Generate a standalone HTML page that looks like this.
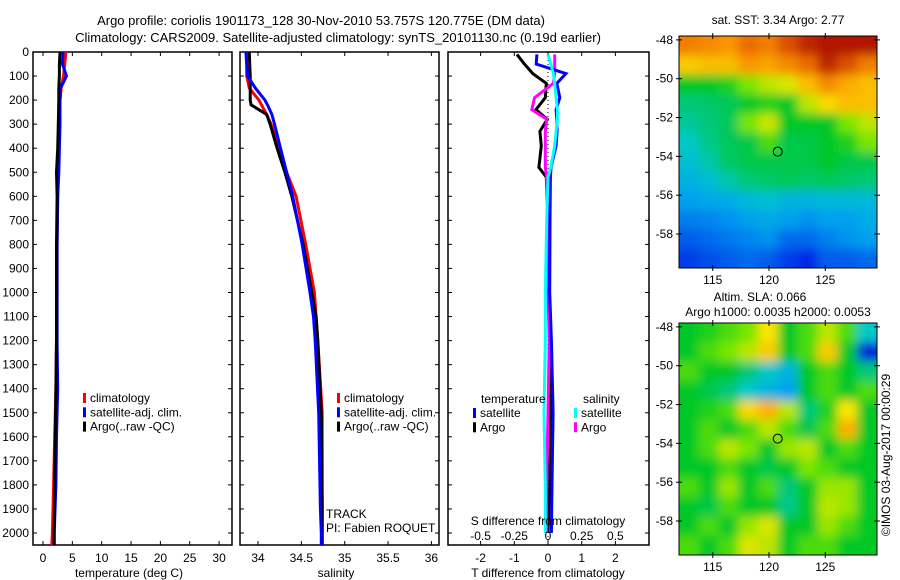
<!DOCTYPE html>
<html><head><meta charset="utf-8"><style>
body{margin:0;background:#fff}
svg{display:block;font-family:"Liberation Sans",sans-serif;font-size:12px}
</style></head><body>
<svg id="fig" width="900" height="580" viewBox="0 0 900 580">
<text x="321" y="25" text-anchor="middle" font-size="13">Argo profile: coriolis 1901173_128 30-Nov-2010 53.757S 120.775E (DM data)</text>
<text x="338" y="42" text-anchor="middle" font-size="13">Climatology: CARS2009. Satellite-adjusted climatology: synTS_20101130.nc (0.19d earlier)</text>
<text x="778" y="24" text-anchor="middle">sat. SST: 3.34 Argo: 2.77</text>
<text x="760" y="301" text-anchor="middle">Altim. SLA: 0.066</text>
<text x="778" y="316" text-anchor="middle">Argo h1000: 0.0035 h2000: 0.0053</text>
<text transform="translate(890,455) rotate(-90)" text-anchor="middle">©IMOS 03-Aug-2017 00:00:29</text>
<g id="plots"></g>
</svg>
<script>
// ---- profile data ----
const depths = [0,50,100,150,200,300,400,500,600,800,1000,1200,1400,1600,1800,2000,2050];
const tempClim = [3.9,3.7,3.5,3.1,2.9,2.8,2.7,2.6,2.5,2.4,2.4,2.3,2.2,2.0,1.8,1.6,1.5];
const tempSat  = [3.4,3.3,4.0,3.0,2.9,2.9,2.8,2.7,2.5,2.4,2.4,2.4,2.5,2.3,2.2,1.9,1.9];
const tempArgo = [2.9,2.8,2.8,2.7,2.7,2.6,2.5,2.3,2.4,2.3,2.3,2.3,2.2,2.1,2.0,1.9,1.9];
const salDepths = [0,100,150,200,220,260,300,400,500,600,800,1000,1100,1200,1500,1900,2000,2050];
const salClim = [33.87,33.87,33.90,34.01,34.04,34.10,34.15,34.25,34.33,34.44,34.55,34.65,34.67,34.69,34.74,34.74,34.74,34.74];
const salSat  = [33.86,33.88,33.97,34.08,34.11,34.16,34.19,34.26,34.33,34.40,34.51,34.60,34.64,34.66,34.70,34.72,34.73,34.73];
const salArgo = [33.90,33.91,33.91,33.91,33.92,34.10,34.14,34.22,34.31,34.39,34.52,34.62,34.67,34.69,34.73,34.74,34.74,34.74];
const diffDepths = [10,50,90,130,190,240,280,330,390,480,520,700,1000,1200,1500,1800,2000];
const tDiffSat  = [-0.33,-0.35,0.53,0.26,0.35,0.24,0.26,0.27,0.24,0.09,0.07,0.06,0.05,0.1,0.15,0.12,0.1];
const tDiffArgo = [-0.92,-0.7,-0.45,-0.05,-0.08,-0.36,-0.02,-0.24,-0.2,-0.27,-0.05,0.0,0.02,0.05,0.08,0.05,0.0];
const sDiffSat  = [0.0,0.02,0.04,0.05,0.06,0.07,0.07,0.06,0.05,0.02,0.0,-0.01,-0.02,-0.02,-0.03,-0.02,-0.02];
const sDiffArgo = [0.05,0.05,0.05,0.04,-0.1,-0.12,-0.01,-0.02,-0.02,-0.02,-0.01,0.0,0.0,0.01,0.0,-0.01,-0.01];
const depthTicks = [0,100,200,300,400,500,600,700,800,900,1000,1100,1200,1300,1400,1500,1600,1700,1800,1900,2000];
const tempTicks = [0,5,10,15,20,25,30];
const salTicks = [34,34.5,35,35.5,36];
const tDiffTicks = [-2,-1,0,1,2];
const sDiffTicks = [-0.5,-0.25,0,0.25,0.5];
// ---- map data (rows north->south, cols west->east), normalized colour values ----
const sstGrid = [
[.82,.80,.78,.85,.82,.90,.95,.97,.97,.97],
[.70,.72,.72,.78,.76,.80,.85,.95,.90,.82],
[.50,.50,.52,.58,.62,.64,.72,.80,.75,.72],
[.45,.46,.47,.50,.52,.50,.62,.68,.72,.72],
[.43,.45,.47,.58,.63,.50,.50,.50,.58,.62],
[.40,.44,.47,.48,.55,.48,.48,.50,.52,.58],
[.38,.42,.46,.48,.48,.48,.48,.50,.48,.48],
[.34,.37,.42,.45,.46,.47,.46,.47,.46,.45],
[.30,.32,.33,.36,.38,.35,.35,.36,.36,.36],
[.25,.26,.28,.30,.32,.30,.28,.30,.30,.33],
[.20,.22,.24,.26,.28,.22,.22,.25,.28,.30],
[.15,.18,.20,.22,.20,.15,.12,.20,.20,.22]];
const slaGrid = [
[.50,.52,.55,.58,.66,.50,.55,.62,.55,.40],
[.50,.55,.58,.62,.70,.50,.55,.70,.50,.10],
[.55,.50,.50,.45,.40,.35,.50,.55,.50,.45],
[.50,.48,.45,.40,.35,.30,.50,.55,.50,.55],
[.50,.52,.55,.68,.74,.62,.45,.52,.66,.50],
[.50,.55,.50,.55,.62,.55,.48,.55,.74,.50],
[.50,.55,.62,.58,.50,.60,.62,.50,.55,.50],
[.50,.50,.55,.50,.48,.50,.58,.55,.50,.50],
[.55,.50,.60,.50,.55,.45,.50,.60,.60,.50],
[.50,.48,.55,.50,.50,.44,.50,.62,.60,.50],
[.50,.55,.50,.60,.64,.50,.50,.60,.55,.50],
[.55,.50,.55,.64,.62,.50,.55,.55,.50,.50]];
const latTicks = [-48,-50,-52,-54,-56,-58];
const lonTicks = [115,120,125];
const argoLon = 120.775, argoLat = -53.757;

const NS='http://www.w3.org/2000/svg';
const root=document.getElementById('plots');
function mk(tag,attrs,parent){const e=document.createElementNS(NS,tag);for(const k in attrs)e.setAttribute(k,attrs[k]);(parent||root).appendChild(e);return e;}
function txt(s,x,y,anchor,parent){const t=mk('text',{x:x,y:y,'text-anchor':anchor||'start'},parent);t.textContent=s;return t;}

const Y=d=>52+d*0.2405;
const xT=v=>43+v*5.87;
const xS=v=>258+(v-34)*86.7;
const xD=v=>548+v*33.7;
const xSD=v=>548+v*4*33.7;

function panel(x0,x1,name){
  const g=mk('g',{});
  
  
  mk('rect',{x:x0,y:52,width:x1-x0,height:493,fill:'none',stroke:'#000','stroke-width':1.5},g);
  return g;
}
function series(g,xs,ds,fx,color,name){
  const p=ds.map((d,i)=>fx(xs[i]).toFixed(1)+','+Y(d).toFixed(1)).join(' ');
  const l=mk('polyline',{points:p,fill:'none',stroke:color,'stroke-width':3,'stroke-linejoin':'miter'},g);
  
  
}
function xticks(g,ticks,fx,x0,x1,labY){
  ticks.forEach(t=>{const x=fx(t);if(x<x0||x>x1)return;
    mk('line',{x1:x,x2:x,y1:52,y2:56,stroke:'#000'},g);
    mk('line',{x1:x,x2:x,y1:545,y2:541,stroke:'#000'},g);
    const tl=txt(String(t),x,labY,'middle',g);
    
    
  });
}
function yticks(g,x0,x1,labels){
  depthTicks.forEach(d=>{const y=Y(d);
    mk('line',{x1:x0,x2:x0+4,y1:y,y2:y,stroke:'#000'},g);
    mk('line',{x1:x1,x2:x1-4,y1:y,y2:y,stroke:'#000'},g);
    if(labels){const tl=txt(String(d),29,y+4,'end',g);
      
      }
  });
}
function legend(g,x,y,items){
  items.forEach((it,i)=>{
    mk('rect',{x:x,y:y+i*14.3-9,width:3,height:10,fill:it[1]},g);
    const t=txt(it[0],x+7,y+i*14.3,'start',g);
    
    
  });
}
// temperature panel
let g=panel(33,232,'temperature-panel');
yticks(g,33,232,true);
xticks(g,tempTicks,xT,33,232,562);
series(g,tempClim,depths,xT,'#f00','temp-climatology-line');
series(g,tempSat,depths,xT,'#00f','temp-satellite-line');
series(g,tempArgo,depths,xT,'#000','temp-argo-line');
legend(g,83,402,[['climatology','#f00'],['satellite-adj. clim.','#00f'],['Argo(..raw -QC)','#000']]);
txt('temperature (deg C)',129,577,'middle',g);
// salinity panel
g=panel(240,439,'salinity-panel');
yticks(g,240,439,false);
xticks(g,salTicks,xS,240,439,562);
series(g,salClim,salDepths,xS,'#f00','sal-climatology-line');
series(g,salArgo,salDepths,xS,'#000','sal-argo-line');
series(g,salSat,salDepths,xS,'#00f','sal-satellite-line');
legend(g,337,402,[['climatology','#f00'],['satellite-adj. clim.','#00f'],['Argo(..raw -QC)','#000']]);
txt('salinity',336,577,'middle',g);
txt('TRACK',326,518,'start',g);
txt('PI: Fabien ROQUET',326,532,'start',g);
// difference panel
g=panel(448,649,'difference-panel');
yticks(g,448,649,false);
xticks(g,tDiffTicks,xD,448,649,562);
mk('line',{x1:548,x2:548,y1:52,y2:545,stroke:'#000','stroke-dasharray':'1,3'},g);
series(g,tDiffArgo,diffDepths,xD,'#000','tdiff-argo-line');
series(g,sDiffArgo,diffDepths,xSD,'#f0f','sdiff-argo-line');
series(g,tDiffSat,diffDepths,xD,'#00f','tdiff-satellite-line');
series(g,sDiffSat,diffDepths,xSD,'#0ff','sdiff-satellite-line');
sDiffTicks.forEach(t=>{const tl=txt(String(t),xSD(t),540,'middle',g);
  
  });
txt('S difference from climatology',548,525,'middle',g);
txt('T difference from climatology',548,577,'middle',g);
txt('temperature',481,403,'start',g);
txt('salinity',583,403,'start',g);
legend(g,473,417,[['satellite','#00f'],['Argo','#000']]);
legend(g,574,417,[['satellite','#0ff'],['Argo','#f0f']]);

// maps
function jet(v){
  const stops=[[0,[0,0,140]],[0.12,[0,40,230]],[0.3,[0,160,240]],[0.4,[0,200,200]],[0.5,[0,200,40]],[0.58,[120,230,0]],[0.66,[250,230,0]],[0.78,[250,150,0]],[0.9,[220,80,0]],[1,[160,0,0]]];
  for(let i=1;i<stops.length;i++){if(v<=stops[i][0]){const a=stops[i-1],b=stops[i],f=(v-a[0])/(b[0]-a[0]);
    return 'rgb('+a[1].map((c,k)=>Math.round(c+(b[1][k]-c)*f)).join(',')+')';}}
  return 'rgb(160,0,0)';
}
const LON0=112.0,LON1=129.6,LAT0=-47.8,LAT1=-59.75;
function map(top,grid,name,idx){
  const gx=mk('g',{});
  
  
  const L=679,R=877,H=232;
  const fx=lon=>L+(lon-LON0)/(LON1-LON0)*(R-L);
  const fy=lat=>top+(lat-LAT0)/(LAT1-LAT0)*H;
  const cid='clip'+idx,fid='blur'+idx;
  const defs=mk('defs',{},gx);
  const cp=mk('clipPath',{id:cid},defs);mk('rect',{x:L,y:top,width:R-L,height:H},cp);
  const fl=mk('filter',{id:fid,x:'-10%',y:'-10%',width:'120%',height:'120%'},defs);mk('feGaussianBlur',{stdDeviation:5},fl);
  const cg=mk('g',{'clip-path':'url(#'+cid+')'},gx);
  const bg=mk('g',{filter:'url(#'+fid+')'},cg);
  const rows=grid.length,cols=grid[0].length;
  const cw=(R-L)/cols,ch=H/rows;
  grid.forEach((row,r)=>row.forEach((v,c)=>{
    const cell=mk('rect',{x:L+c*cw-(c==0?12:0),y:top+r*ch-(r==0?12:0),width:cw+1+(c==0||c==cols-1?12:0),height:ch+1+(r==0||r==rows-1?12:0),fill:jet(v)},bg);
    
    
  }));
  mk('rect',{x:L,y:top,width:R-L,height:H,fill:'none',stroke:'#000','stroke-width':1},gx);
  latTicks.forEach(t=>{const y=fy(t);
    mk('line',{x1:L-3,x2:L+3,y1:y,y2:y,stroke:'#000'},gx);
    mk('line',{x1:R-3,x2:R+3,y1:y,y2:y,stroke:'#000'},gx);
    const tl=txt(String(t),673,y+4,'end',gx);
    
    });
  lonTicks.forEach(t=>{const x=fx(t);
    mk('line',{x1:x,x2:x,y1:top-3,y2:top+3,stroke:'#000'},gx);
    mk('line',{x1:x,x2:x,y1:top+H-3,y2:top+H+3,stroke:'#000'},gx);
    const tl=txt(String(t),x,top+H+16,'middle',gx);
    
    });
  const m=mk('circle',{cx:fx(argoLon),cy:fy(argoLat),r:4.5,fill:'none',stroke:'#000','stroke-width':1},gx);
  
  
}
map(36,sstGrid,'sst-map',1);
map(323,slaGrid,'sla-map',2);
</script>
</body></html>
